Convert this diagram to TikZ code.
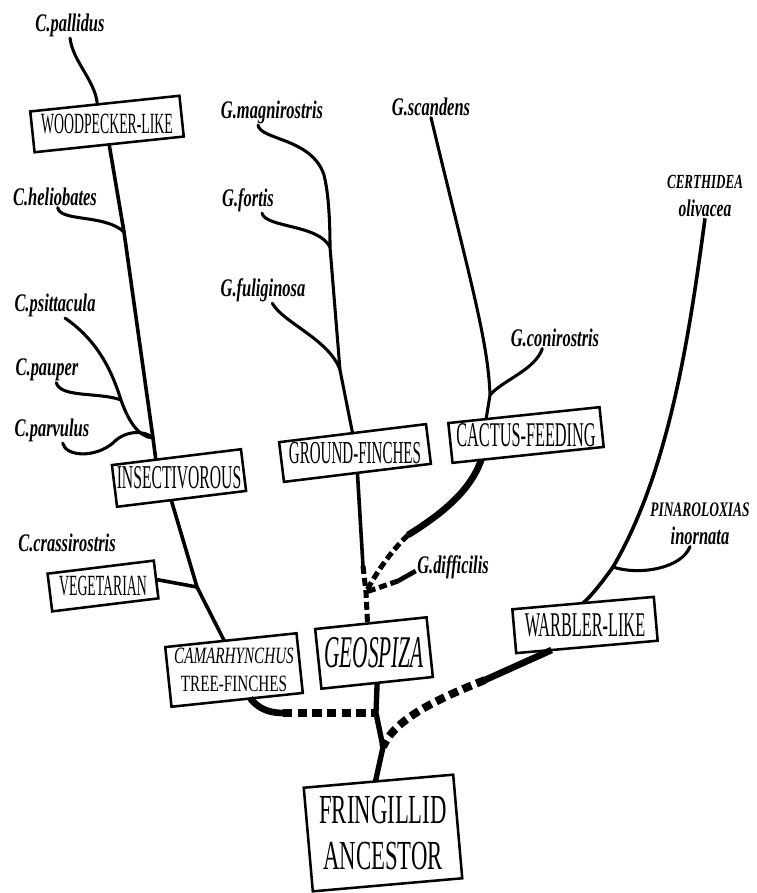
\documentclass[tikz,border=0pt]{standalone}
\usepackage{fontspec}
\setmainfont{Liberation Serif}
\newfontfamily\bfA[FakeStretch=0.47]{Liberation Serif}
\newfontfamily\bfB[FakeStretch=0.55]{Liberation Serif}
\newfontfamily\bfC[FakeStretch=0.65]{Liberation Serif}
\newfontfamily\spfont[FakeStretch=0.65]{Liberation Serif}
\usetikzlibrary{calc}
\tikzset{
  taxon/.style={inner sep=0pt, outer sep=0pt, align=center},
  boxline/.style={line width=1.9pt, line join=miter},
  species/.style={inner sep=1pt, align=center, font=\spfont\bfseries\itshape\fontsize{19pt}{19pt}\selectfont},
  branch/.style={line width=2.3pt, line cap=round},
  trunk/.style={line width=2.7pt},
  thickdash/.style={line width=6pt, dash pattern=on 7pt off 4pt},
  middash/.style={line width=3.8pt, dash pattern=on 6pt off 3pt},
  heavy/.style={line width=5pt},
}
% name, centre x, centre y, half width, half height, tilt (all in px)
\newcommand\tiltbox[6]{%
  \pgfmathsetmacro\tbc{cos(#6)}\pgfmathsetmacro\tbs{sin(#6)}%
  \coordinate (#1-nw) at ({#2-#4*\tbc-#5*\tbs},{#3+#4*\tbs-#5*\tbc});
  \coordinate (#1-ne) at ({#2+#4*\tbc-#5*\tbs},{#3-#4*\tbs-#5*\tbc});
  \coordinate (#1-se) at ({#2+#4*\tbc+#5*\tbs},{#3-#4*\tbs+#5*\tbc});
  \coordinate (#1-sw) at ({#2-#4*\tbc+#5*\tbs},{#3+#4*\tbs+#5*\tbc});
  \draw[boxline] (#1-nw) -- (#1-ne) -- (#1-se) -- (#1-sw) -- cycle;
}
\begin{document}
\begin{tikzpicture}[x=0.75pt,y=-0.75pt]
\useasboundingbox (0,0) rectangle (757,893);

% ---- box labels
\node[taxon, font=\bfA\fontsize{22pt}{22pt}\selectfont] (woodpecker) at (107,124) {WOODPECKER-LIKE};
\node[taxon, font=\bfA\fontsize{25pt}{25pt}\selectfont] (insect) at (179,478) {INSECTIVOROUS};
\node[taxon, font=\bfA\fontsize{24pt}{24pt}\selectfont] (ground) at (355,453) {GROUND-FINCHES};
\node[taxon, font=\bfA\fontsize{26pt}{26pt}\selectfont] (cactus) at (526,435) {CACTUS-FEEDING};
\node[taxon, font=\bfA\fontsize{22pt}{22pt}\selectfont] (veg) at (103,586) {VEGETARIAN};
\node[taxon, font=\bfC\fontsize{17.5pt}{21pt}\selectfont] (camar) at (234,670) {\itshape CAMARHYNCHUS\\TREE-FINCHES};
\node[taxon, font=\bfA\itshape\fontsize{34pt}{34pt}\selectfont] (geospiza) at (374,653) {GEOSPIZA};
\node[taxon, font=\bfA\fontsize{26pt}{26pt}\selectfont] (warbler) at (585,625) {WARBLER-LIKE};
\node[taxon, font=\bfB\fontsize{31pt}{34pt}\selectfont] (fring) at (383,833) {FRINGILLID\\ANCESTOR};

% ---- tilted frames round them
\tiltbox{woodpecker}{107}{124}{75}{20.5}{6}
\tiltbox{insect}{179}{478}{65}{21}{7}
\tiltbox{ground}{355}{453}{74}{20}{7}
\tiltbox{cactus}{526}{435}{76}{20}{6}
\tiltbox{veg}{103}{586}{53.5}{19}{7}
\tiltbox{camar}{234}{670}{66}{30}{6}
\tiltbox{geospiza}{374}{653}{56}{30}{6}
\tiltbox{warbler}{585}{625}{71}{22}{5}
\tiltbox{fring}{383}{833}{75}{52}{5}

% ---- species
\node[species] (pallidus) at (70,25) {C.pallidus};
\node[species] (helio) at (55,197) {C.heliobates};
\node[species] (psitt) at (55,305) {C.psittacula};
\node[species] (pauper) at (47,370) {C.pauper};
\node[species] (parvulus) at (52,430) {C.parvulus};
\node[species] (crass) at (67,543) {C.crassirostris};
\node[species] (magn) at (272,112) {G.magnirostris};
\node[species] (fortis) at (248,200) {G.fortis};
\node[species] (fulig) at (263,290) {G.fuliginosa};
\node[species] (scandens) at (431,107) {G.scandens};
\node[species] (coni) at (555,338) {G.conirostris};
\node[species] (diff) at (453,567) {G.difficilis};
\node[species, font=\spfont\bfseries\itshape\fontsize{15pt}{21pt}\selectfont] (cert) at (705,196) {CERTHIDEA\\{\fontsize{18pt}{21pt}\selectfont olivacea}};
\node[species, font=\spfont\bfseries\itshape\fontsize{15.5pt}{21pt}\selectfont] (pin) at (700,524) {PINAROLOXIAS\\{\fontsize{19pt}{21pt}\selectfont inornata}};

% ---- junctions
\coordinate (J1) at (124,232);
\coordinate (J2) at (153,438);
\coordinate (J3) at (121,400);
\coordinate (J4) at (197,587);
\coordinate (J5) at (376,713);
\coordinate (J6) at (330,247);
\coordinate (J7) at (340,370);
\coordinate (J8) at (363,566);
\coordinate (J9) at (366,592);
\coordinate (J10) at (490,395);
\coordinate (J11) at (383,747);
\coordinate (J12) at (613,567);
\coordinate (C1) at (283,713);
\coordinate (C2) at (408,535);
\coordinate (C3) at (398,581);
\coordinate (C4) at (485,680);

% ---- Camarhynchus
\draw[branch] (pallidus.south) .. controls (73,62) and (95,80) .. ($(woodpecker-nw)!0.45!(woodpecker-ne)$);
\draw[trunk] ($(woodpecker-sw)!0.5!(woodpecker-se)$) -- (J1) -- (J2) -- ($(insect-nw)!0.34!(insect-ne)$);
\draw[branch] ([xshift=2pt]helio.south) .. controls (60,222) and (105,214) .. (J1);
\draw[branch] ([xshift=7.5pt]psitt.south) .. controls (100,342) and (113,375) .. (J3) .. controls (128,420) and (138,437) .. (J2);
\draw[branch] ([xshift=7pt]pauper.south) .. controls (60,398) and (100,392) .. (J3);
\draw[branch] ([xshift=8pt]parvulus.south) .. controls (66,457) and (95,458) .. (113,443) .. controls (125,430) and (145,430) .. (J2);
\draw[trunk] ($(insect-sw)!0.42!(insect-se)$) -- (J4) -- ($(camar-nw)!0.45!(camar-ne)$);
\draw[trunk] ($(veg-ne)!0.5!(veg-se)$) -- (J4);
\draw[heavy] ($(camar-sw)!0.6!(camar-se)$) .. controls (258,708) and (268,713) .. (C1);
\draw[thickdash] (C1) -- (J5);

% ---- Ground finches
\draw[branch] ([xshift=-10.5pt]magn.south) .. controls (260,140) and (312,138) .. (324,175) .. controls (329,195) and (330,225) .. (J6) -- (J7) -- ($(ground-nw)!0.5!(ground-ne)$);
\draw[branch] ([xshift=10.5pt]fortis.south) .. controls (266,228) and (318,224) .. (J6);
\draw[branch] ([xshift=7pt]fulig.south) .. controls (282,322) and (330,340) .. (J7);
\draw[trunk] ($(ground-sw)!0.5!(ground-se)$) -- (J8);
\draw[middash] (J8) -- (J9) -- ($(geospiza-nw)!0.47!(geospiza-ne)$);

% ---- Cactus feeding
\draw[branch] (scandens.south) .. controls (470,280) and (488,340) .. (J10) -- ($(cactus-nw)!0.25!(cactus-ne)$);
\draw[branch] ([xshift=-9.5pt]coni.south) .. controls (535,370) and (503,380) .. (J10);
\draw[heavy] ($(cactus-sw)!0.19!(cactus-se)$) .. controls (470,492) and (440,515) .. (C2);
\draw[middash] (C2) .. controls (390,552) and (375,575) .. (J9);
\draw[line width=3.5pt] ([yshift=-3pt]diff.west) -- (C3);
\draw[middash] (C3) -- (J9);

% ---- main stem
\draw[line width=4pt] ($(geospiza-sw)!0.5!(geospiza-se)$) -- (J5) -- (J11) -- ($(fring-nw)!0.48!(fring-ne)$);

% ---- Warbler
\draw[trunk] (cert.south) .. controls (690,330) and (670,470) .. (J12) .. controls (600,585) and (592,595) .. ($(warbler-nw)!0.5!(warbler-ne)$);
\draw[branch] ([xshift=-7.5pt]pin.south) .. controls (682,568) and (640,576) .. (J12);
\draw[heavy] ($(warbler-sw)!0.25!(warbler-se)$) -- (C4);
\draw[thickdash] (C4) .. controls (440,698) and (395,718) .. (J11);
\end{tikzpicture}
\end{document}
